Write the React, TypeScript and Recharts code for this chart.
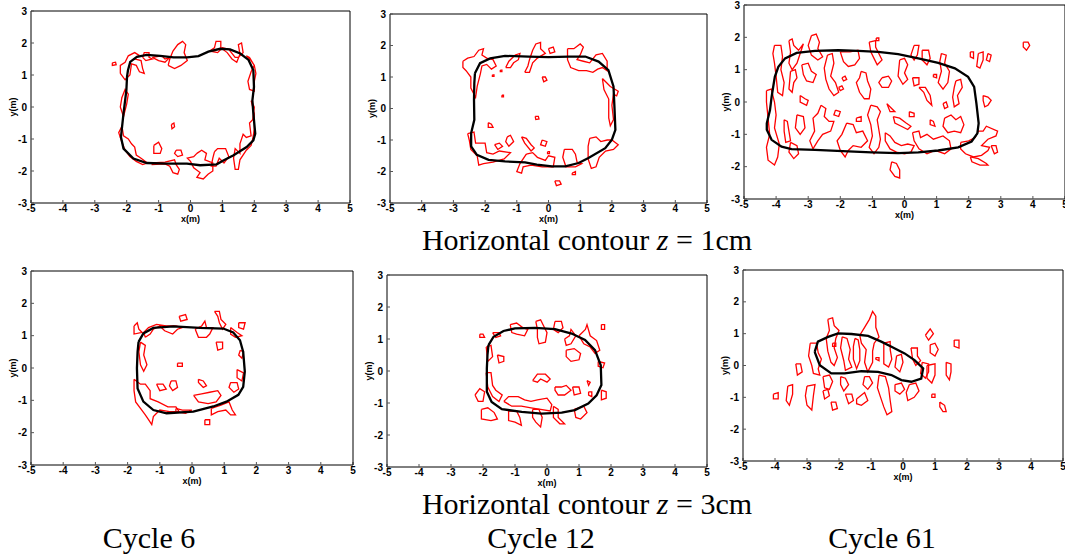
import React from 'react';
import { ScatterChart, Scatter, XAxis, YAxis } from 'recharts';

type Pt = [number, number];

const xTicks = [-5, -4, -3, -2, -1, 0, 1, 2, 3, 4, 5];
const yTicks = [-3, -2, -1, 0, 1, 2, 3];

// cycle 6, z = 1cm
const c6z1Outline: Pt[] = [
  [-1.96, 1.15], [-1.89, 1.41], [-1.68, 1.57], [-1.37, 1.63], [-0.95, 1.6], [-0.53, 1.55], [-0.11, 1.55],
  [0.25, 1.59], [0.56, 1.73], [0.93, 1.82], [1.24, 1.8], [1.56, 1.67], [1.82, 1.47], [1.97, 1.15],
  [1.99, 0.63], [1.94, 0.21], [1.97, -0.2], [2.03, -0.83], [1.97, -1.04], [1.76, -1.25], [1.35, -1.51],
  [1.03, -1.67], [0.82, -1.79], [0.3, -1.82], [-0.11, -1.77], [-0.74, -1.77], [-1.37, -1.75],
  [-1.79, -1.61], [-2.1, -1.3], [-2.18, -0.94], [-2.1, -0.2], [-2.01, 0.53], [-1.99, 0.94],
];
const c6z1Blobs: Pt[][] = [
  [[-2.45, 1.38], [-2.35, 1.4], [-2.33, 1.32], [-2.45, 1.3]],
  [[-2.2, 1.05], [-2.2, 1.3], [-2.05, 1.4], [-1.95, 1.6], [-1.75, 1.7], [-1.62, 1.62], [-1.75, 1.5], [-1.55, 1.45],
    [-1.5, 1.2], [-1.45, 1.05], [-1.6, 1.1], [-1.7, 1.3], [-1.85, 1.35], [-1.9, 1.0], [-2.05, 0.85]],
  [[-1.5, 1.55], [-1.45, 1.7], [-1.3, 1.7], [-1.3, 1.55], [-1.2, 1.5], [-1.4, 1.45]],
  [[-0.7, 1.3], [-0.65, 1.5], [-0.55, 1.75], [-0.4, 1.95], [-0.25, 2.05], [-0.15, 1.95], [-0.2, 1.7], [-0.1, 1.45],
    [-0.3, 1.3], [-0.5, 1.2]],
  [[-1.2, 1.55], [-0.9, 1.6], [-0.8, 1.5], [-0.65, 1.55], [-0.8, 1.4], [-1.0, 1.45]],
  [[0.6, 1.75], [0.75, 1.85], [0.8, 2.05], [0.95, 2.05], [0.95, 1.85], [1.15, 1.7], [1.3, 1.5], [1.45, 1.4],
    [1.55, 1.65], [1.5, 1.95], [1.6, 2.0], [1.65, 1.7], [1.5, 1.55], [1.4, 1.55], [1.2, 1.8], [1.0, 1.85], [0.85, 1.7]],
  [[1.75, 1.6], [1.9, 1.45], [2.0, 1.3], [1.9, 1.1], [1.8, 0.8], [1.85, 0.55], [2.0, 0.5], [2.0, 0.8], [2.05, 1.05],
    [2.0, 1.3], [1.85, 1.55]],
  [[1.9, 0.2], [2.0, 0.0], [1.95, -0.4], [1.85, -0.5], [1.9, -0.9], [1.75, -0.95], [1.65, -0.85], [1.55, -1.15],
    [1.55, -1.45], [1.4, -1.3], [1.35, -1.6], [1.4, -1.95], [1.5, -1.95], [1.55, -1.65], [1.75, -1.35], [1.9, -1.2],
    [1.95, -1.0], [2.0, -0.7], [2.0, -0.2]],
  [[0.75, -1.4], [0.85, -1.3], [1.1, -1.3], [1.2, -1.55], [1.05, -1.75], [0.9, -1.6], [0.8, -1.85], [0.65, -1.85], [0.7, -1.6]],
  [[0.2, -1.45], [0.35, -1.35], [0.5, -1.45], [0.45, -1.65], [0.7, -1.75], [0.7, -2.0], [0.55, -2.1], [0.4, -2.25],
    [0.2, -2.2], [0.3, -2.05], [0.1, -1.9], [0.0, -1.7], [-0.1, -1.6], [0.1, -1.55]],
  [[-0.45, -1.35], [-0.3, -1.35], [-0.25, -1.5], [-0.4, -1.55], [-0.5, -1.45]],
  [[-1.15, -1.2], [-1.0, -1.1], [-0.9, -1.3], [-0.95, -1.45], [-1.15, -1.45]],
  [[-2.15, -0.6], [-2.1, -0.9], [-1.95, -1.0], [-1.85, -1.15], [-1.75, -1.25], [-1.7, -1.5], [-1.55, -1.6],
    [-1.35, -1.75], [-1.5, -1.8], [-1.7, -1.7], [-1.9, -1.55], [-2.05, -1.35], [-2.15, -1.1], [-2.25, -0.8]],
  [[-1.2, -1.75], [-0.8, -1.72], [-0.5, -1.65], [-0.45, -1.8], [-0.35, -1.95], [-0.4, -2.1], [-0.55, -2.05],
    [-0.65, -1.85], [-0.8, -1.78], [-1.2, -1.8]],
  [[-2.15, 0.3], [-2.05, 0.55], [-1.95, 0.4], [-2.0, 0.1], [-2.1, -0.3], [-2.2, 0.0]],
  [[-0.6, -0.55], [-0.52, -0.5], [-0.5, -0.62], [-0.58, -0.68]],
];

// cycle 12, z = 1cm
const c12z1Outline: Pt[] = [
  [-2.32, 1.12], [-2.16, 1.44], [-1.84, 1.59], [-1.37, 1.67], [-0.63, 1.65], [0.0, 1.63], [0.63, 1.65],
  [1.16, 1.65], [1.58, 1.49], [1.89, 1.22], [2.05, 0.7], [2.08, 0.06], [2.11, -0.68], [2.0, -0.99],
  [1.79, -1.26], [1.26, -1.57], [0.95, -1.73], [0.53, -1.84], [0.11, -1.84], [-0.37, -1.78], [-0.74, -1.71],
  [-1.37, -1.68], [-1.89, -1.63], [-2.26, -1.47], [-2.44, -1.2], [-2.44, -0.78], [-2.34, -0.36],
  [-2.35, 0.27], [-2.34, 0.8],
];
const c12z1Blobs: Pt[][] = [
  [[-2.7, 1.5], [-2.55, 1.6], [-2.35, 1.65], [-2.2, 1.85], [-2.05, 1.9], [-2.1, 1.7], [-1.95, 1.6], [-1.75, 1.55],
    [-1.65, 1.35], [-1.8, 1.25], [-1.95, 1.4], [-2.1, 1.35], [-2.15, 1.1], [-2.25, 0.7], [-2.3, 0.35], [-2.45, 0.65],
    [-2.45, 1.0], [-2.6, 1.2], [-2.7, 1.3]],
  [[-1.35, 1.3], [-1.25, 1.5], [-1.05, 1.7], [-0.9, 1.75], [-0.95, 1.55], [-1.1, 1.45], [-1.2, 1.3]],
  [[-0.75, 1.15], [-0.65, 1.35], [-0.6, 1.55], [-0.5, 1.85], [-0.4, 2.05], [-0.25, 2.1], [-0.25, 1.9], [-0.1, 1.75],
    [-0.35, 1.6], [-0.5, 1.45], [-0.6, 1.15]],
  [[0.0, 1.9], [0.15, 1.95], [0.2, 1.8], [0.05, 1.75]],
  [[0.6, 1.9], [0.8, 1.9], [1.0, 2.05], [1.1, 1.95], [1.0, 1.7], [0.9, 1.55], [1.1, 1.5], [1.3, 1.45], [1.5, 1.7],
    [1.7, 1.75], [1.85, 1.5], [1.85, 1.2], [1.7, 1.3], [1.55, 1.25], [1.4, 1.15], [1.2, 1.2], [0.95, 1.2], [0.7, 1.3], [0.6, 1.55]],
  [[1.7, 0.95], [1.85, 0.8], [1.95, 0.7], [2.2, 0.55], [2.15, 0.4], [2.05, 0.45], [2.0, 0.1], [2.05, -0.35],
    [1.95, -0.55], [1.9, -0.3], [1.9, 0.3], [1.75, 0.6]],
  [[1.3, -0.95], [1.5, -0.9], [1.65, -1.05], [1.85, -1.0], [2.0, -1.0], [2.2, -1.15], [2.05, -1.3], [1.8, -1.35],
    [1.6, -1.55], [1.5, -1.85], [1.35, -1.9], [1.25, -1.6], [1.25, -1.2]],
  [[0.5, -1.3], [0.75, -1.3], [0.85, -1.45], [0.9, -1.7], [1.05, -1.75], [0.85, -1.85], [0.55, -1.85], [0.45, -1.55]],
  [[-0.7, -1.45], [-0.5, -1.4], [-0.35, -1.55], [-0.1, -1.65], [0.0, -1.5], [0.2, -1.55], [0.15, -1.85], [-0.2, -1.85],
    [-0.55, -1.8], [-0.8, -1.85], [-0.85, -2.05], [-1.0, -2.0], [-0.9, -1.75]],
  [[-2.55, -0.8], [-2.35, -0.75], [-2.3, -1.1], [-2.0, -1.1], [-1.95, -1.4], [-1.75, -1.45], [-1.55, -1.35],
    [-1.2, -1.4], [-1.4, -1.6], [-1.75, -1.7], [-2.05, -1.75], [-2.2, -1.8], [-2.25, -1.5], [-2.45, -1.3], [-2.5, -1.0]],
  [[-1.3, -0.9], [-1.2, -0.85], [-1.1, -1.05], [-1.25, -1.2], [-1.35, -1.05]],
  [[-0.85, -0.9], [-0.7, -0.95], [-0.55, -1.15], [-0.45, -1.25], [-0.55, -1.35], [-0.75, -1.1]],
  [[-1.7, -1.15], [-1.55, -1.1], [-1.45, -1.2], [-1.6, -1.3]],
  [[-0.2, -1.0], [-0.05, -1.05], [-0.1, -1.2], [-0.25, -1.15]],
  [[-1.9, -0.45], [-1.8, -0.5], [-1.75, -0.6], [-1.9, -0.6]],
  [[-0.42, -0.25], [-0.32, -0.25], [-0.3, -0.33], [-0.4, -0.35]],
  [[-0.2, 1.0], [-0.1, 1.0], [-0.05, 0.9], [-0.15, 0.85]],
  [[0.2, -2.3], [0.35, -2.3], [0.4, -2.4], [0.25, -2.45]],
  [[0.75, -2.05], [0.85, -2.0], [0.85, -2.1], [0.75, -2.1]],
  [[-1.47, 0.42], [-1.42, 0.42], [-1.42, 0.37], [-1.47, 0.37]],
  [[-1.77, 1.07], [-1.72, 1.07], [-1.72, 1.02], [-1.77, 1.02]],
  [[-1.52, 1.22], [-1.47, 1.22], [-1.47, 1.17], [-1.52, 1.17]],
  [[-0.03, -1.37], [0.03, -1.37], [0.03, -1.43], [-0.03, -1.43]],
];

// cycle 61, z = 1cm
const c61z1Outline: Pt[] = [
  [-4.09, 0.47], [-4.04, 0.78], [-3.93, 1.09], [-3.72, 1.35], [-3.36, 1.52], [-2.79, 1.58], [-2.06, 1.6],
  [-1.44, 1.58], [-0.82, 1.55], [-0.2, 1.48], [0.43, 1.35], [1.05, 1.21], [1.57, 1.04], [1.98, 0.78],
  [2.17, 0.47], [2.24, -0.04], [2.31, -0.66], [2.27, -0.97], [2.09, -1.22], [1.67, -1.4], [1.05, -1.5],
  [0.43, -1.56], [-0.2, -1.58], [-1.03, -1.56], [-1.75, -1.53], [-2.79, -1.48], [-3.52, -1.46],
  [-3.83, -1.38], [-4.14, -1.17], [-4.29, -0.86], [-4.29, -0.66], [-4.19, -0.25], [-4.14, 0.16],
];
const c61z1Blobs: Pt[][] = [
  [[-4.05, 1.75], [-3.85, 1.75], [-3.8, 1.4], [-3.85, 1.0], [-3.75, 0.6], [-3.8, 0.2], [-3.95, 0.3], [-4.0, 0.8], [-4.05, 1.2], [-4.1, 1.5]],
  [[-4.3, 0.35], [-4.15, 0.4], [-4.05, 0.0], [-4.0, -0.4], [-4.05, -0.8], [-3.9, -1.3], [-3.95, -1.7], [-4.05, -1.95],
    [-4.25, -1.8], [-4.3, -1.4], [-4.2, -1.0], [-4.25, -0.5], [-4.3, 0.0]],
  [[-3.75, -0.55], [-3.65, -0.6], [-3.6, -0.9], [-3.55, -1.2], [-3.7, -1.25], [-3.75, -0.9]],
  [[-3.6, 1.9], [-3.5, 1.95], [-3.45, 1.75], [-3.3, 1.6], [-3.15, 1.8], [-3.25, 1.5], [-3.35, 1.2], [-3.5, 1.0], [-3.6, 1.2], [-3.55, 1.55]],
  [[-3.55, 0.95], [-3.4, 1.0], [-3.35, 0.75], [-3.45, 0.6], [-3.5, 0.3], [-3.6, 0.4]],
  [[-2.9, 2.05], [-2.75, 2.1], [-2.65, 1.85], [-2.7, 1.65], [-2.55, 1.4], [-2.7, 1.3], [-2.9, 1.45], [-3.0, 1.75]],
  [[-3.2, 1.15], [-3.0, 1.2], [-2.9, 0.95], [-2.75, 0.85], [-2.85, 0.6], [-3.05, 0.65], [-3.15, 0.85]],
  [[-3.25, 0.2], [-3.1, 0.1], [-3.0, 0.05], [-3.05, -0.1], [-3.25, 0.0]],
  [[-3.35, -0.4], [-3.15, -0.45], [-3.1, -0.8], [-3.25, -1.0], [-3.4, -0.8]],
  [[-3.55, -1.25], [-3.35, -1.35], [-3.3, -1.6], [-3.45, -1.75], [-3.6, -1.55]],
  [[-2.6, -0.1], [-2.45, -0.2], [-2.5, -0.45], [-2.35, -0.6], [-2.2, -0.6], [-2.3, -0.9], [-2.55, -1.0], [-2.7, -1.2],
    [-2.85, -1.45], [-2.95, -1.2], [-2.8, -0.9], [-2.85, -0.5], [-2.7, -0.35]],
  [[-2.4, 1.45], [-2.25, 1.5], [-2.2, 1.2], [-2.3, 0.8], [-2.15, 0.6], [-2.05, 0.3], [-2.2, 0.2], [-2.35, 0.4], [-2.45, 0.7], [-2.5, 1.05]],
  [[-2.0, 1.55], [-1.7, 1.55], [-1.45, 1.6], [-1.4, 1.35], [-1.55, 1.15], [-1.75, 1.1], [-1.9, 1.25]],
  [[-1.35, 0.95], [-1.2, 0.9], [-1.15, 0.65], [-1.05, 0.4], [-1.1, 0.1], [-1.25, 0.1], [-1.4, 0.3], [-1.5, 0.6], [-1.4, 0.75]],
  [[-2.05, 0.45], [-1.95, 0.5], [-1.9, 0.4], [-2.0, 0.35]],
  [[-1.95, 0.75], [-1.85, 0.8], [-1.8, 0.7], [-1.9, 0.65]],
  [[-1.1, 1.85], [-0.9, 1.9], [-0.9, 1.7], [-0.8, 1.5], [-0.7, 1.3], [-0.85, 1.15], [-0.95, 1.35], [-1.05, 1.55]],
  [[-0.88, 1.98], [-0.8, 1.98], [-0.8, 1.9], [-0.88, 1.9]],
  [[-0.7, 0.75], [-0.5, 0.8], [-0.4, 0.65], [-0.5, 0.45], [-0.7, 0.45], [-0.8, 0.6]],
  [[-1.8, -0.65], [-1.6, -0.7], [-1.5, -0.95], [-1.3, -0.9], [-1.15, -1.2], [-1.35, -1.4], [-1.6, -1.35], [-1.75, -1.5],
    [-1.85, -1.7], [-2.0, -1.5], [-2.1, -1.2], [-1.95, -1.0]],
  [[-1.05, -0.1], [-0.85, -0.15], [-0.75, -0.3], [-0.85, -0.55], [-0.8, -0.85], [-0.75, -1.15], [-0.8, -1.4], [-0.95, -1.6],
    [-1.1, -1.4], [-1.0, -1.05], [-1.05, -0.7], [-1.15, -0.4]],
  [[-0.55, -0.05], [-0.4, -0.2], [-0.3, -0.3], [-0.45, -0.3]],
  [[-0.35, -0.45], [-0.15, -0.5], [0.05, -0.65], [0.2, -0.75], [0.1, -0.85], [-0.1, -0.75], [-0.3, -0.65]],
  [[-0.6, -0.95], [-0.45, -1.05], [-0.3, -1.25], [-0.1, -1.35], [0.1, -1.3], [0.3, -1.35], [0.2, -1.55], [0.0, -1.6],
    [-0.25, -1.55], [-0.45, -1.45], [-0.6, -1.2]],
  [[-0.4, -1.85], [-0.25, -1.9], [-0.15, -2.1], [-0.15, -2.35], [-0.3, -2.3], [-0.45, -2.1]],
  [[-0.15, 1.3], [0.0, 1.35], [0.1, 1.15], [0.0, 0.9], [0.1, 0.7], [-0.05, 0.55], [-0.2, 0.8]],
  [[0.3, 1.75], [0.45, 1.75], [0.4, 1.45], [0.3, 1.3], [0.2, 1.45]],
  [[0.25, 0.75], [0.45, 0.75], [0.45, 0.55], [0.3, 0.5]],
  [[0.45, 0.45], [0.6, 0.3], [0.7, 0.05], [0.85, -0.1], [0.8, 0.2], [0.65, 0.45]],
  [[0.55, 1.6], [0.75, 1.6], [0.8, 1.35], [0.7, 1.15], [0.55, 1.3]],
  [[1.15, 1.5], [1.3, 1.45], [1.25, 1.2], [1.4, 0.95], [1.35, 0.6], [1.2, 0.4], [1.05, 0.6], [1.15, 0.95], [1.1, 1.25]],
  [[0.9, 0.85], [1.0, 0.85], [1.0, 0.75], [0.9, 0.78]],
  [[1.2, -0.05], [1.3, 0.0], [1.35, -0.15], [1.25, -0.2]],
  [[0.15, -0.3], [0.3, -0.35], [0.3, -0.45], [0.15, -0.45]],
  [[0.8, -0.55], [0.9, -0.6], [0.95, -0.75], [0.8, -0.7]],
  [[1.6, 0.65], [1.75, 0.7], [1.8, 0.45], [1.65, 0.2], [1.7, -0.05], [1.55, -0.15], [1.5, 0.15], [1.55, 0.45]],
  [[1.25, -0.5], [1.45, -0.4], [1.6, -0.55], [1.75, -0.45], [1.85, -0.7], [1.75, -0.95], [1.55, -0.9], [1.35, -0.95], [1.2, -0.75]],
  [[0.25, -0.95], [0.45, -0.9], [0.5, -1.1], [0.7, -1.0], [0.9, -1.15], [1.2, -1.05], [1.4, -1.2], [1.45, -1.45],
    [1.25, -1.6], [0.95, -1.5], [0.7, -1.6], [0.45, -1.45], [0.3, -1.2]],
  [[1.75, -1.25], [2.0, -1.2], [2.2, -1.1], [2.3, -0.9], [2.45, -0.9], [2.55, -0.75], [2.9, -0.9], [2.85, -1.05],
    [2.6, -1.15], [2.4, -1.35], [2.65, -1.4], [2.6, -1.5], [2.4, -1.65], [2.15, -1.7], [1.9, -1.6], [1.75, -1.45]],
  [[2.7, -1.35], [2.85, -1.35], [2.9, -1.55], [2.8, -1.6]],
  [[2.05, -1.7], [2.3, -1.75], [2.55, -1.9], [2.6, -1.95], [2.35, -1.95], [2.1, -1.85]],
  [[2.45, 0.2], [2.6, 0.15], [2.7, 0.05], [2.6, -0.1], [2.5, -0.15], [2.45, 0.05]],
  [[2.05, 1.55], [2.15, 1.55], [2.15, 1.35], [2.05, 1.4]],
  [[2.3, 1.5], [2.45, 1.55], [2.45, 1.3], [2.35, 1.05], [2.25, 1.1]],
  [[2.6, 1.5], [2.7, 1.45], [2.65, 1.25], [2.55, 1.3]],
  [[3.7, 1.85], [3.85, 1.85], [3.9, 1.75], [3.8, 1.6], [3.7, 1.7]],
  [[-2.15, -0.25], [-2.0, -0.3], [-2.05, -0.45], [-2.2, -0.4]],
  [[-1.5, -0.5], [-1.35, -0.45], [-1.35, -0.6], [-1.5, -0.6]],
];

// cycle 6, z = 3cm
const c6z3Outline: Pt[] = [
  [-1.66, 0.81], [-1.51, 1.07], [-1.2, 1.24], [-0.58, 1.29], [0.25, 1.24], [0.97, 1.22], [1.28, 1.1],
  [1.49, 0.86], [1.59, 0.5], [1.64, -0.11], [1.59, -0.58], [1.44, -0.83], [1.07, -1.04], [0.66, -1.19],
  [0.04, -1.35], [-0.79, -1.4], [-1.2, -1.3], [-1.51, -1.04], [-1.69, -0.63], [-1.71, -0.01], [-1.69, 0.5],
];
const c6z3Blobs: Pt[][] = [
  [[-1.8, 1.3], [-1.7, 1.4], [-1.65, 1.2], [-1.55, 1.1], [-1.8, 1.05]],
  [[-1.45, 0.95], [-1.3, 1.05], [-1.2, 1.2], [-1.0, 1.3], [-0.85, 1.15], [-0.6, 1.05], [-0.45, 1.2], [-0.3, 1.25],
    [-0.5, 1.3], [-0.8, 1.3], [-1.1, 1.35], [-1.35, 1.25], [-1.5, 1.1]],
  [[-1.6, 0.8], [-1.45, 0.7], [-1.5, 0.4], [-1.4, 0.1], [-1.5, -0.1], [-1.6, 0.1], [-1.65, 0.5]],
  [[-0.4, 1.6], [-0.2, 1.65], [-0.15, 1.5], [-0.35, 1.45]],
  [[0.1, 1.2], [0.3, 1.3], [0.4, 1.45], [0.45, 1.25], [0.65, 1.25], [0.55, 1.05], [0.45, 0.95], [0.2, 0.95]],
  [[0.7, 1.75], [0.85, 1.75], [0.9, 1.5], [1.05, 1.35], [0.95, 1.2], [0.85, 1.4], [0.8, 1.6]],
  [[0.75, 0.8], [0.95, 0.8], [0.95, 0.6], [0.8, 0.55]],
  [[1.2, 1.25], [1.4, 1.1], [1.55, 1.0], [1.35, 0.95], [1.2, 1.05]],
  [[1.45, 1.4], [1.65, 1.4], [1.6, 1.2], [1.45, 1.25]],
  [[1.5, 0.55], [1.6, 0.5], [1.55, 0.3], [1.45, 0.4]],
  [[1.4, -0.05], [1.6, -0.15], [1.55, -0.4], [1.4, -0.3]],
  [[1.2, -0.45], [1.4, -0.45], [1.45, -0.65], [1.3, -0.75], [1.15, -0.6]],
  [[0.05, -0.85], [0.3, -0.8], [0.55, -0.75], [0.8, -0.7], [0.9, -0.85], [0.75, -1.05], [0.5, -1.1], [0.2, -1.05]],
  [[0.2, -0.35], [0.35, -0.4], [0.45, -0.55], [0.35, -0.6], [0.2, -0.45]],
  [[-0.65, -0.4], [-0.5, -0.4], [-0.45, -0.6], [-0.6, -0.7], [-0.7, -0.55]],
  [[-1.1, -0.5], [-0.9, -0.5], [-0.8, -0.65], [-1.0, -0.7]],
  [[-0.45, 0.15], [-0.3, 0.15], [-0.3, 0.05], [-0.45, 0.05]],
  [[-1.8, -0.35], [-1.6, -0.5], [-1.45, -0.5], [-1.3, -0.7], [-1.3, -0.95], [-1.05, -1.05], [-0.75, -1.2], [-0.5, -1.2],
    [-0.4, -1.35], [-0.7, -1.35], [-1.0, -1.3], [-1.2, -1.5], [-1.25, -1.75], [-1.35, -1.6], [-1.45, -1.45],
    [-1.6, -1.25], [-1.75, -1.05], [-1.8, -0.7]],
  [[0.6, -1.25], [0.9, -1.15], [1.15, -1.05], [1.25, -1.3], [1.35, -1.45], [1.2, -1.45], [1.05, -1.3], [0.8, -1.35], [0.6, -1.45]],
  [[0.4, -1.6], [0.55, -1.6], [0.55, -1.75], [0.4, -1.75]],
  [[-0.5, -1.25], [-0.3, -1.3], [0.0, -1.3], [-0.2, -1.4], [-0.5, -1.35]],
];

// cycle 12, z = 3cm
const c12z3Outline: Pt[] = [
  [-1.83, 0.81], [-1.67, 1.07], [-1.36, 1.25], [-1.0, 1.33], [-0.37, 1.35], [0.25, 1.31], [0.77, 1.17],
  [1.19, 0.97], [1.5, 0.65], [1.68, 0.18], [1.7, -0.44], [1.55, -0.76], [1.29, -1.02], [0.87, -1.22],
  [0.46, -1.3], [-0.17, -1.33], [-0.79, -1.28], [-1.41, -1.19], [-1.73, -0.97], [-1.88, -0.65],
  [-1.88, 0.08], [-1.86, 0.5],
];
const c12z3Blobs: Pt[][] = [
  [[-2.1, 1.15], [-2.0, 1.15], [-1.95, 1.05], [-2.1, 1.05]],
  [[-1.7, 1.2], [-1.5, 1.2], [-1.45, 1.1], [-1.6, 1.05]],
  [[-1.15, 1.45], [-0.95, 1.5], [-0.75, 1.35], [-0.6, 1.3], [-0.7, 1.1], [-0.95, 1.15], [-1.1, 1.2]],
  [[-0.35, 1.55], [-0.2, 1.6], [-0.1, 1.4], [0.0, 1.2], [-0.05, 0.9], [-0.25, 0.85], [-0.3, 1.05], [-0.3, 1.3]],
  [[0.25, 1.55], [0.45, 1.55], [0.5, 1.35], [0.35, 1.2], [0.2, 1.3]],
  [[0.55, 1.0], [0.7, 1.1], [0.75, 1.3], [0.9, 1.1], [0.75, 0.85], [0.6, 0.8]],
  [[1.0, 1.1], [1.2, 1.3], [1.25, 1.45], [1.35, 1.1], [1.55, 0.95], [1.65, 0.65], [1.5, 0.55], [1.35, 0.75], [1.15, 0.85]],
  [[1.7, 1.45], [1.8, 1.45], [1.8, 1.3], [1.7, 1.3]],
  [[0.6, 0.65], [0.85, 0.7], [1.05, 0.55], [1.0, 0.35], [0.75, 0.3], [0.6, 0.45]],
  [[1.6, 0.3], [1.8, 0.25], [1.75, 0.1], [1.6, 0.15]],
  [[-1.9, 0.75], [-1.75, 0.8], [-1.7, 0.45], [-1.85, 0.3]],
  [[-1.55, 0.5], [-1.35, 0.45], [-1.35, 0.3], [-1.5, 0.25]],
  [[-0.45, -0.3], [-0.3, -0.1], [-0.05, -0.1], [0.1, -0.25], [0.0, -0.35], [-0.2, -0.25], [-0.3, -0.35]],
  [[0.25, -0.5], [0.45, -0.5], [0.6, -0.45], [0.75, -0.6], [0.55, -0.75], [0.35, -0.75], [0.25, -0.6]],
  [[0.8, -0.5], [1.0, -0.5], [1.05, -0.7], [0.85, -0.75]],
  [[1.25, -0.3], [1.35, -0.35], [1.3, -0.45]],
  [[1.3, -0.65], [1.4, -0.65], [1.4, -0.8], [1.3, -0.75]],
  [[1.7, -0.6], [1.85, -0.65], [1.85, -0.85], [1.7, -0.9]],
  [[-1.9, -0.05], [-1.75, -0.05], [-1.7, -0.45], [-1.6, -0.6], [-1.4, -0.75], [-1.5, -0.95], [-1.7, -0.8], [-1.85, -0.5]],
  [[-2.25, -0.75], [-2.1, -0.55], [-1.95, -0.65], [-2.0, -0.95], [-2.15, -0.95]],
  [[-1.35, -0.95], [-1.2, -0.8], [-0.9, -0.8], [-0.7, -0.9], [-0.5, -0.95], [-0.3, -0.9], [0.0, -0.85], [0.15, -1.05],
    [0.1, -1.25], [-0.2, -1.2], [-0.5, -1.15], [-0.8, -1.1], [-1.1, -1.1]],
  [[-2.05, -1.2], [-1.85, -1.15], [-1.65, -1.3], [-1.55, -1.5], [-1.75, -1.55], [-2.05, -1.5]],
  [[-1.2, -1.25], [-0.95, -1.25], [-0.85, -1.45], [-0.8, -1.7], [-1.0, -1.6], [-1.2, -1.55]],
  [[-0.45, -1.2], [-0.25, -1.2], [-0.15, -1.45], [-0.2, -1.75], [-0.35, -1.6], [-0.45, -1.45]],
  [[0.2, -1.1], [0.35, -1.2], [0.35, -1.45], [0.55, -1.65], [0.4, -1.65], [0.2, -1.45]],
  [[0.85, -1.2], [1.15, -1.1], [1.25, -1.3], [1.05, -1.5], [0.9, -1.45]],
];

// cycle 61, z = 3cm
const c61z3Outline: Pt[] = [
  [-2.76, 0.43], [-2.66, 0.75], [-2.34, 0.9], [-2.03, 1.01], [-1.61, 0.99], [-1.09, 0.93], [-0.68, 0.75],
  [-0.36, 0.59], [0.05, 0.38], [0.36, 0.17], [0.63, -0.09], [0.57, -0.41], [0.26, -0.51], [-0.05, -0.46],
  [-0.36, -0.3], [-0.78, -0.2], [-1.3, -0.18], [-1.82, -0.25], [-2.24, -0.25], [-2.6, 0.01],
];
const c61z3Blobs: Pt[][] = [
  [[-2.9, 0.7], [-2.7, 0.7], [-2.65, 0.4], [-2.55, 0.2], [-2.65, -0.1], [-2.6, -0.3], [-2.8, -0.25], [-2.85, 0.0], [-2.95, 0.3]],
  [[-2.35, 1.45], [-2.2, 1.5], [-2.15, 1.25], [-2.0, 1.1], [-2.1, 0.85], [-2.15, 0.55], [-2.05, 0.25], [-2.15, 0.0],
    [-2.25, 0.1], [-2.35, 0.45], [-2.4, 0.85], [-2.3, 1.1]],
  [[-1.9, 0.9], [-1.75, 0.85], [-1.65, 0.5], [-1.7, 0.2], [-1.6, -0.05], [-1.8, -0.15], [-1.85, 0.15], [-1.95, 0.55]],
  [[-1.35, 0.95], [-1.2, 1.2], [-1.05, 1.45], [-0.95, 1.7], [-0.85, 1.55], [-0.85, 1.2], [-0.75, 0.9], [-0.9, 0.7],
    [-0.95, 0.45], [-0.95, 0.1], [-1.1, -0.2], [-1.2, 0.1], [-1.15, 0.5], [-1.3, 0.7]],
  [[-1.5, 0.85], [-1.4, 0.8], [-1.35, 0.5], [-1.35, 0.15], [-1.45, -0.1], [-1.55, 0.2], [-1.55, 0.6]],
  [[-0.6, 0.7], [-0.4, 0.75], [-0.4, 0.5], [-0.35, 0.2], [-0.45, -0.05], [-0.6, 0.05], [-0.6, 0.4]],
  [[-0.2, 0.3], [-0.05, 0.35], [0.0, 0.1], [-0.1, -0.2], [-0.25, -0.05]],
  [[0.25, 0.55], [0.45, 0.55], [0.45, 0.3], [0.55, 0.15], [0.4, 0.0], [0.3, 0.2]],
  [[0.6, 0.1], [0.8, 0.05], [0.8, -0.2], [0.7, -0.4], [0.55, -0.25]],
  [[-2.5, -0.35], [-2.3, -0.3], [-2.2, -0.5], [-2.3, -0.75], [-2.45, -0.7]],
  [[-1.95, -0.35], [-1.8, -0.4], [-1.7, -0.6], [-1.85, -0.8], [-1.95, -0.6]],
  [[-1.2, -0.35], [-1.05, -0.35], [-0.95, -0.55], [-1.1, -0.75], [-1.25, -0.6]],
  [[-0.75, -0.3], [-0.55, -0.35], [-0.45, -0.7], [-0.4, -1.1], [-0.35, -1.45], [-0.5, -1.55], [-0.6, -1.3], [-0.7, -1.0], [-0.8, -0.7]],
  [[-0.25, -0.6], [-0.05, -0.55], [0.05, -0.75], [-0.1, -0.9], [-0.25, -0.8]],
  [[0.2, -0.6], [0.4, -0.55], [0.5, -0.8], [0.35, -1.0], [0.15, -1.1], [0.1, -0.85]],
  [[0.75, 0.0], [1.0, 0.05], [1.0, -0.3], [0.9, -0.55], [0.75, -0.4]],
  [[0.7, 0.95], [0.85, 1.15], [0.95, 1.0], [0.8, 0.8]],
  [[0.85, 0.65], [1.0, 0.7], [1.1, 0.5], [1.0, 0.3], [0.85, 0.4]],
  [[1.6, 0.8], [1.75, 0.8], [1.75, 0.55], [1.6, 0.6]],
  [[1.35, 0.1], [1.5, 0.05], [1.5, -0.2], [1.45, -0.45], [1.35, -0.3]],
  [[-3.35, 0.05], [-3.2, 0.05], [-3.15, -0.2], [-3.3, -0.3]],
  [[-3.6, -0.65], [-3.45, -0.6], [-3.45, -0.9], [-3.55, -1.25], [-3.65, -1.1]],
  [[-3.0, -0.65], [-2.75, -0.6], [-2.8, -0.95], [-2.85, -1.4], [-3.0, -1.25], [-3.05, -0.95]],
  [[-2.5, -0.8], [-2.35, -0.75], [-2.3, -0.95], [-2.45, -1.05]],
  [[-2.25, -1.15], [-2.1, -1.15], [-2.05, -1.35], [-2.2, -1.4]],
  [[-1.8, -0.9], [-1.6, -0.9], [-1.55, -1.1], [-1.7, -1.2]],
  [[-1.45, -1.05], [-1.2, -0.85], [-1.1, -1.1], [-1.3, -1.25], [-1.45, -1.2]],
  [[-4.05, -0.9], [-3.9, -0.85], [-3.9, -1.05], [-4.05, -1.05]],
  [[0.9, -0.9], [1.0, -0.9], [1.0, -1.0], [0.9, -1.0]],
  [[1.15, -1.15], [1.3, -1.25], [1.35, -1.45], [1.25, -1.45], [1.15, -1.3]],
  [[-2.2, 0.7], [-2.1, 0.7], [-2.1, 0.6], [-2.2, 0.6]],
  [[-0.85, 0.25], [-0.75, 0.25], [-0.75, 0.15], [-0.85, 0.2]],
];

const AXIS_FONT = '"Liberation Sans", Arial, sans-serif';
const SERIF = '"Liberation Serif", "Times New Roman", serif';
const tickStyle = { fill: '#000', fontSize: 10, fontWeight: 700, fontFamily: AXIS_FONT };
const noDot = () => <g />;

const toPts = (arr: Pt[]) => [...arr, arr[0]].map(([x, y]) => ({ x, y }));

interface PanelProps {
  box: [number, number, number, number];
  outline: Pt[];
  blobs: Pt[][];
}

function Panel({ box, outline, blobs }: PanelProps) {
  const [x0, y0, x1, y1] = box;
  const w = x1 - x0 + 46;
  const h = y1 - y0 + 31;
  return (
    <div style={{ position: 'absolute', left: x0 - 40, top: y0 - 6 }}>
      <ScatterChart width={w} height={h} margin={{ top: 5, right: 5, bottom: 0, left: 0 }}>
        <XAxis
          xAxisId="b"
          dataKey="x"
          type="number"
          domain={[-5, 5]}
          ticks={xTicks}
          interval={0}
          allowDataOverflow
          height={25}
          tickSize={-3}
          tickMargin={5}
          tick={tickStyle}
          axisLine={{ stroke: '#000' }}
          tickLine={{ stroke: '#555' }}
          label={{ value: 'x(m)', position: 'insideBottom', offset: 6, style: { ...tickStyle, fontSize: 9 } }}
        />
        <XAxis
          xAxisId="t"
          orientation="top"
          type="number"
          domain={[-5, 5]}
          ticks={xTicks}
          interval={0}
          height={1}
          tickSize={-3}
          tick={false}
          axisLine={{ stroke: '#000' }}
          tickLine={{ stroke: '#555' }}
        />
        <YAxis
          yAxisId="l"
          dataKey="y"
          type="number"
          domain={[-3, 3]}
          ticks={yTicks}
          interval={0}
          allowDataOverflow
          width={40}
          tickSize={-3}
          tickMargin={7}
          tick={tickStyle}
          axisLine={{ stroke: '#000' }}
          tickLine={{ stroke: '#555' }}
          label={{
            value: 'y(m)',
            angle: -90,
            position: 'insideLeft',
            offset: 22,
            style: { ...tickStyle, fontSize: 9, textAnchor: 'middle' },
          }}
        />
        <YAxis
          yAxisId="r"
          orientation="right"
          type="number"
          domain={[-3, 3]}
          ticks={yTicks}
          interval={0}
          width={1}
          tickSize={-3}
          tick={false}
          axisLine={{ stroke: '#000' }}
          tickLine={{ stroke: '#555' }}
        />
        {blobs.map((b, i) => (
          <Scatter
            key={i}
            data={toPts(b)}
            xAxisId="b"
            yAxisId="l"
            fill="#ff0000"
            line={{ stroke: '#ff0000', strokeWidth: 1.3 }}
            shape={noDot}
            isAnimationActive={false}
          />
        ))}
        <Scatter
          data={toPts(outline)}
          xAxisId="b"
          yAxisId="l"
          fill="#000"
          line={{ stroke: '#000', strokeWidth: 2.3 }}
          shape={noDot}
          isAnimationActive={false}
        />
      </ScatterChart>
    </div>
  );
}

// line box kept tight so the captions do not collide with the x(m) labels
const captionStyle: React.CSSProperties = {
  position: 'absolute',
  fontFamily: SERIF,
  fontSize: 30,
  lineHeight: '22px',
  color: '#000',
  whiteSpace: 'nowrap',
  textAlign: 'center',
  width: 600,
};

export default function App() {
  return (
    <div
      style={{
        position: 'absolute',
        left: 0,
        top: 0,
        width: 1065,
        height: 556,
        overflow: 'hidden',
        background: '#fff',
      }}
    >
      <Panel box={[31, 11, 350, 203]} outline={c6z1Outline} blobs={c6z1Blobs} />
      <Panel box={[390, 14, 707, 203]} outline={c12z1Outline} blobs={c12z1Blobs} />
      <Panel box={[744, 5, 1065, 199]} outline={c61z1Outline} blobs={c61z1Blobs} />
      <Panel box={[31, 271, 353, 465]} outline={c6z3Outline} blobs={c6z3Blobs} />
      <Panel box={[387, 275, 707, 467]} outline={c12z3Outline} blobs={c12z3Blobs} />
      <Panel box={[743, 270, 1063, 461]} outline={c61z3Outline} blobs={c61z3Blobs} />

      <div style={{ ...captionStyle, left: 287, top: 229 }}>
        Horizontal contour <i>z</i> = 1cm
      </div>
      <div style={{ ...captionStyle, left: 287, top: 493 }}>
        Horizontal contour <i>z</i> = 3cm
      </div>
      <div style={{ ...captionStyle, left: 149 - 300, top: 527 }}>Cycle 6</div>
      <div style={{ ...captionStyle, left: 541 - 300, top: 527 }}>Cycle 12</div>
      <div style={{ ...captionStyle, left: 882 - 300, top: 527 }}>Cycle 61</div>
    </div>
  );
}
